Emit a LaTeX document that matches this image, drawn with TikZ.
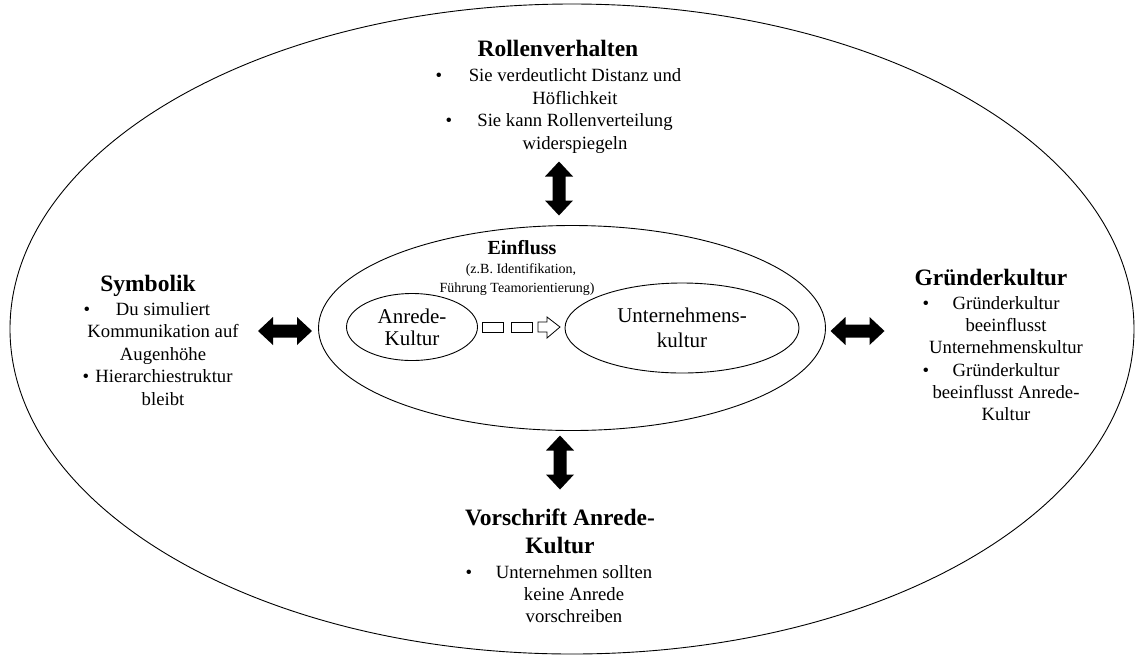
\documentclass[tikz,border=0pt]{standalone}
\usepackage{fontspec}
\setmainfont{Liberation Serif}
\usetikzlibrary{shapes.geometric}
\begin{document}
\begin{tikzpicture}[x=1pt,y=-1pt,
  ell/.style={draw,ellipse,inner sep=0pt,line width=0.9pt},
  body/.style={anchor=base,inner sep=0pt,font=\fontsize{18.7}{22}\selectfont},
  ttl/.style={anchor=base,inner sep=0pt,font=\fontsize{23.5}{28}\selectfont\bfseries},
  inner/.style={anchor=base,inner sep=0pt,font=\fontsize{21}{24}\selectfont},
  small/.style={anchor=base,inner sep=0pt,font=\fontsize{14}{16}\selectfont},
  einfl/.style={anchor=base,inner sep=0pt,font=\fontsize{20}{24}\selectfont\bfseries},
  bul/.style={anchor=base,inner sep=0pt,font=\fontsize{18.7}{22}\selectfont},
  hollow/.style={draw,line width=0.8pt},
  dblarrow/.pic={\fill[black] (-27,0) -- (-12,14) -- (-12,6.5) -- (12,6.5) -- (12,14) -- (27,0) -- (12,-14) -- (12,-6.5) -- (-12,-6.5) -- (-12,-14) -- cycle;}]
\useasboundingbox (0,0) rectangle (1135,657);

% ellipses
\node[ell,minimum width=1124pt,minimum height=650pt] (outer) at (572,329) {};
\node[ell,minimum width=507pt,minimum height=205pt] (middle) at (572,328) {};
\node[ell,minimum width=131pt,minimum height=67pt] (anrede) at (412,327) {};
\node[ell,minimum width=234pt,minimum height=90pt] (unter) at (682,328) {};

% texts inside
\node[inner] (an1) at (412,323) {Anrede-};
\node[inner] (an2) at (412,345) {Kultur};
\node[inner] (un1) at (682,322) {Unternehmens-};
\node[inner] (un2) at (682,347) {kultur};
\node[einfl] (einfluss) at (522,254) {Einfluss};
\node[small] (ein1) at (521,273) {(z.B. Identifikation,};
\node[small] (ein2) at (517,292) {Führung Teamorientierung)};

% hollow arrow chain
\draw[hollow] (482,322) rectangle (503,332);
\draw[hollow] (511,322) rectangle (532,332);
\draw[hollow] (538,322) -- (547,322) -- (547,317) -- (560,327) -- (547,338) -- (547,332) -- (538,332) -- cycle;

% double arrows
\pic[rotate=90] (arrT) at (559,188.5) {dblarrow};
\pic[rotate=90] (arrB) at (560,462.5) {dblarrow};
\pic (arrL) at (285,331) {dblarrow};
\pic (arrR) at (857.5,331) {dblarrow};

% Rollenverhalten
\node[ttl] (rtitle) at (558,56) {Rollenverhalten};
\node[body] (r1) at (575,81) {Sie verdeutlicht Distanz und};
\node[body] (r2) at (575,104) {Höflichkeit};
\node[body] (r3) at (575,126.5) {Sie kann Rollenverteilung};
\node[body] (r4) at (575,149) {widerspiegeln};
\node[bul] (rb1) at (439,81) {•};
\node[bul] (rb2) at (449,126.5) {•};

% Symbolik
\node[ttl] (stitle) at (148,291) {Symbolik};
\node[body] (s1) at (163,315) {Du simuliert};
\node[body] (s2) at (163,337.5) {Kommunikation auf};
\node[body] (s3) at (163,360) {Augenhöhe};
\node[body] (s4) at (164,382.5) {Hierarchiestruktur};
\node[body] (s5) at (163,405) {bleibt};
\node[bul] (sb1) at (87,315) {•};
\node[bul] (sb2) at (86,382.5) {•};

% Gruenderkultur
\node[ttl] (gtitle) at (991,285) {Gründerkultur};
\node[body] (g1) at (1006,309) {Gründerkultur};
\node[body] (g2) at (1006,331) {beeinflusst};
\node[body] (g3) at (1006,353.5) {Unternehmenskultur};
\node[body] (g4) at (1006,376) {Gründerkultur};
\node[body] (g5) at (1006,398) {beeinflusst Anrede-};
\node[body] (g6) at (1006,420) {Kultur};
\node[bul] (gb1) at (926,309) {•};
\node[bul] (gb2) at (926,376) {•};

% Vorschrift
\node[ttl] (vtitle1) at (560,525) {Vorschrift Anrede-};
\node[ttl] (vtitle2) at (560,553) {Kultur};
\node[body] (v1) at (574,578) {Unternehmen sollten};
\node[body] (v2) at (574,600) {keine Anrede};
\node[body] (v3) at (574,622) {vorschreiben};
\node[bul] (vb1) at (469,578) {•};
\end{tikzpicture}
\end{document}
